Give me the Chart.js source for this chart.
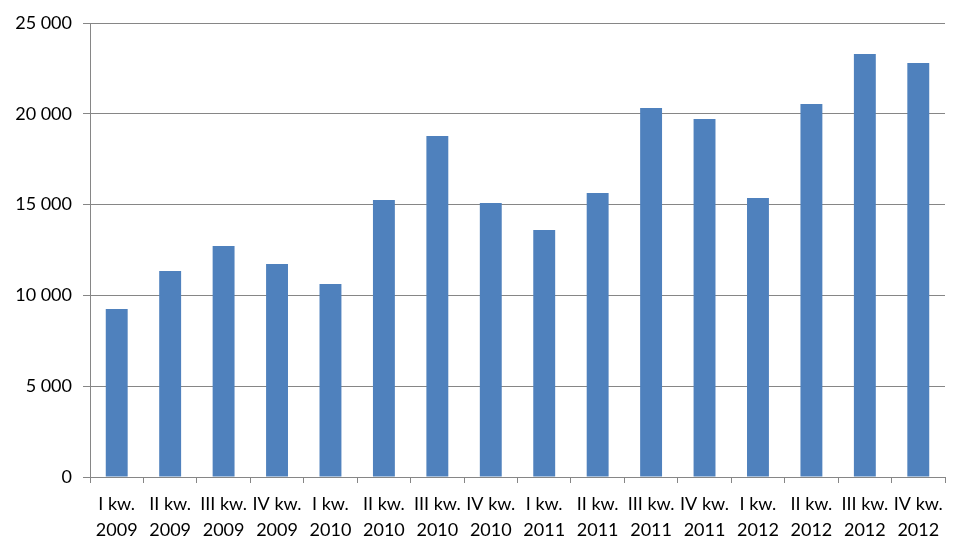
<!DOCTYPE html>
<html><head><meta charset="utf-8">
<script src="https://cdn.jsdelivr.net/npm/chart.js@4"></script>
<style>html,body{margin:0;padding:0;background:#fff}canvas{display:block}</style>
</head><body>
<canvas id="c" width="969" height="555"></canvas>
<script>
const quarters = ["I kw.","II kw.","III kw.","IV kw."];
const years = ["2009","2010","2011","2012"];
const categories = [
  ["I kw.","2009"],["II kw.","2009"],["III kw.","2009"],["IV kw.","2009"],
  ["I kw.","2010"],["II kw.","2010"],["III kw.","2010"],["IV kw.","2010"],
  ["I kw.","2011"],["II kw.","2011"],["III kw.","2011"],["IV kw.","2011"],
  ["I kw.","2012"],["II kw.","2012"],["III kw.","2012"],["IV kw.","2012"]
];
const values = [9250,11340,12720,11730,10630,15250,18780,15090,13600,15640,20320,19710,15360,20540,23290,22800];
const yTicks = [0,5000,10000,15000,20000,25000];

const fmt = v => String(v).replace(/\B(?=(\d{3})+(?!\d))/g, ' ');
new Chart(document.getElementById('c'), {
  type: 'bar',
  data: { labels: categories, datasets: [{ data: values, backgroundColor: '#4F81BD', borderWidth: 0, categoryPercentage: 1, barPercentage: 0.41 }] },
  options: {
    responsive: false, animation: false,
    layout: { padding: { top: 23, right: 24, left: 0, bottom: 0 } },
    plugins: { legend: { display: false }, tooltip: { enabled: false } },
    scales: {
      x: {
        grid: { drawOnChartArea: false, drawTicks: true, tickLength: 6, color: '#868686', offset: true },
        border: { color: '#868686' },
        ticks: { color: '#000', font: { family: 'Lato', size: 18, lineHeight: 1.4 }, maxRotation: 0, minRotation: 0, autoSkip: false, padding: 9 },
        afterFit: s => { s.height = 78; }
      },
      y: {
        min: 0, max: 25000,
        afterBuildTicks: s => { s.ticks = yTicks.map(v => ({ value: v })); },
        grid: { color: '#868686', tickLength: 7, drawTicks: true },
        border: { color: '#868686' },
        ticks: { color: '#000', font: { family: 'Lato', size: 18 }, padding: 11, callback: v => fmt(v) },
        afterFit: s => { s.width = 90; }
      }
    }
  }
});
</script>
</body></html>
